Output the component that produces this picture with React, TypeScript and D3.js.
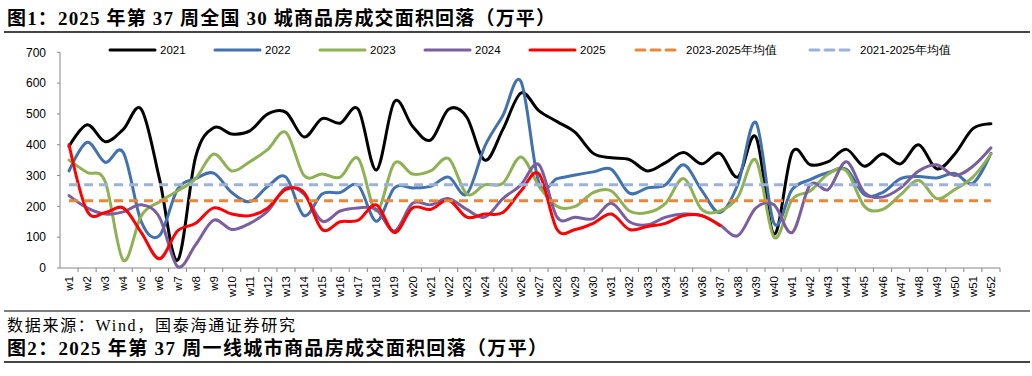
import React from "react";
import * as d3 from "d3";

const weeks = Array.from({ length: 52 }, (_, i) => `w${i + 1}`);
const yTicks = [0, 100, 200, 300, 400, 500, 600, 700];

const d2021 = [395,465,410,450,515,290,25,360,455,435,445,500,505,425,485,470,515,318,540,460,415,515,490,350,450,568,510,475,440,372,358,352,315,342,375,338,372,295,425,110,375,335,345,385,330,370,338,400,322,370,452,468];
const d2022 = [315,408,343,375,150,105,255,290,308,245,215,265,295,170,240,245,268,152,260,260,265,295,240,395,495,605,275,290,302,312,320,243,260,270,335,252,180,272,472,145,255,287,310,320,238,245,290,297,292,307,275,372];
const d2023 = [350,310,280,25,170,215,250,290,370,315,345,385,440,300,305,295,355,185,340,305,315,355,240,270,275,360,265,200,200,245,250,185,180,210,290,190,185,230,350,100,222,250,305,315,200,190,238,285,225,255,295,370];
const d2024 = [235,195,175,182,205,165,5,75,155,125,145,185,260,240,152,185,195,190,120,210,205,225,190,165,225,270,335,165,165,160,210,150,140,165,175,170,140,105,195,205,115,270,255,345,245,230,260,315,335,300,330,390];
const d2025 = [400,185,180,195,115,30,120,145,195,175,170,195,255,245,125,150,155,205,115,195,190,220,165,175,180,250,305,125,125,145,175,125,135,145,170,170,138];
const avg2325 = weeks.map(() => 218);
const avg2125 = weeks.map(() => 270);

const seriesNames = ["2021", "2022", "2023", "2024", "2025", "2023-2025年均值", "2021-2025年均值"];
const seriesData = [d2021, d2022, d2023, d2024, d2025, avg2325, avg2125];
const seriesColors = ["#000000", "#4271B0", "#8EB153", "#7A5E9E", "#FF0000", "#E8873C", "#9DB2D8"];
const seriesDashed = [false, false, false, false, false, true, true];

const W = 1032, H = 376;
const plotLeft = 60, plotRight = 1000, plotTop = 52.3, plotBottom = 268;

export default function App() {
  const x = d3.scaleBand<string>().domain(weeks).range([plotLeft, plotRight]).padding(0);
  const y = d3.scaleLinear().domain([0, 700]).range([plotBottom, plotTop]);
  const cx = (i: number) => (x(weeks[i]) as number) + x.bandwidth() / 2;
  const line = d3
    .line<number>()
    .x((_, i) => cx(i))
    .y((v) => y(v))
    .curve(d3.curveCardinal.tension(0));

  const font = "'Liberation Sans', Arial, sans-serif";
  const titleFont = "'Liberation Serif', 'Noto Sans CJK SC', serif";

  const legendX = [110, 215, 320, 425, 530, 636, 810];

  return (
    <svg width={W} height={H} style={{ position: "absolute", left: 0, top: 0, background: "#fff" }}>
      <rect x={0} y={0} width={W} height={H} fill="#fff" />
      {/* title */}
      <text x={7} y={25} fontFamily={titleFont} fontWeight="bold" fontSize={19} fill="#000" textLength={548} lengthAdjust="spacing">
        图1：2025 年第 37 周全国 30 城商品房成交面积回落（万平）
      </text>
      <line x1={4} x2={1030} y1={32} y2={32} stroke="#444" strokeWidth={2} />

      {/* y axis */}
      <line x1={plotLeft} x2={plotLeft} y1={plotTop} y2={plotBottom} stroke="#888" strokeWidth={1} />
      {yTicks.map((t) => (
        <g key={t}>
          <line x1={plotLeft - 3} x2={plotLeft} y1={y(t)} y2={y(t)} stroke="#888" />
          <text x={46} y={y(t)} dy="0.35em" textAnchor="end" fontFamily={font} fontSize={12} fill="#000">
            {t}
          </text>
        </g>
      ))}

      {/* x axis */}
      <line x1={plotLeft} x2={plotRight} y1={plotBottom} y2={plotBottom} stroke="#888" strokeWidth={1} />
      {weeks.map((w) => (
        <line
          key={w}
          x1={(x(w) as number) + x.bandwidth()}
          x2={(x(w) as number) + x.bandwidth()}
          y1={plotBottom}
          y2={plotBottom + 4}
          stroke="#888"
        />
      ))}
      {weeks.map((w, i) => (
        <text
          key={w}
          transform={`translate(${cx(i)},276) rotate(-90)`}
          dy="0.35em"
          textAnchor="end"
          fontFamily={font}
          fontSize={11.5}
          fill="#000"
        >
          {w}
        </text>
      ))}

      {/* series */}
      {seriesData.map((d, k) => (
        <path
          key={seriesNames[k]}
          d={line(d) || ""}
          fill="none"
          stroke={seriesColors[k]}
          strokeWidth={3}
          strokeDasharray={seriesDashed[k] ? "9,6" : undefined}
          strokeLinejoin="round"
          strokeLinecap={seriesDashed[k] ? "butt" : "round"}
        />
      ))}

      {/* legend */}
      {seriesNames.map((n, k) => (
        <g key={n}>
          <line
            x1={legendX[k]}
            x2={legendX[k] + 45}
            y1={50}
            y2={50}
            stroke={seriesColors[k]}
            strokeWidth={3}
            strokeDasharray={seriesDashed[k] ? "9,6" : undefined}
            strokeLinecap="round"
          />
          <text x={legendX[k] + 50} y={50} dy="0.35em" fontFamily={font} fontSize={11.5} fill="#000">
            {n}
          </text>
        </g>
      ))}

      {/* footer */}
      <line x1={4} x2={1030} y1={311} y2={311} stroke="#555" strokeWidth={1.5} />
      <text x={7} y={331} fontFamily={titleFont} fontSize={16} fill="#000" textLength={288} lengthAdjust="spacing">
        数据来源：Wind，国泰海通证券研究
      </text>
      <text x={7} y={355} fontFamily={titleFont} fontWeight="bold" fontSize={19} fill="#000" textLength={540} lengthAdjust="spacing">
        图2：2025 年第 37 周一线城市商品房成交面积回落（万平）
      </text>
      <line x1={4} x2={1030} y1={362} y2={362} stroke="#444" strokeWidth={2} />
    </svg>
  );
}
